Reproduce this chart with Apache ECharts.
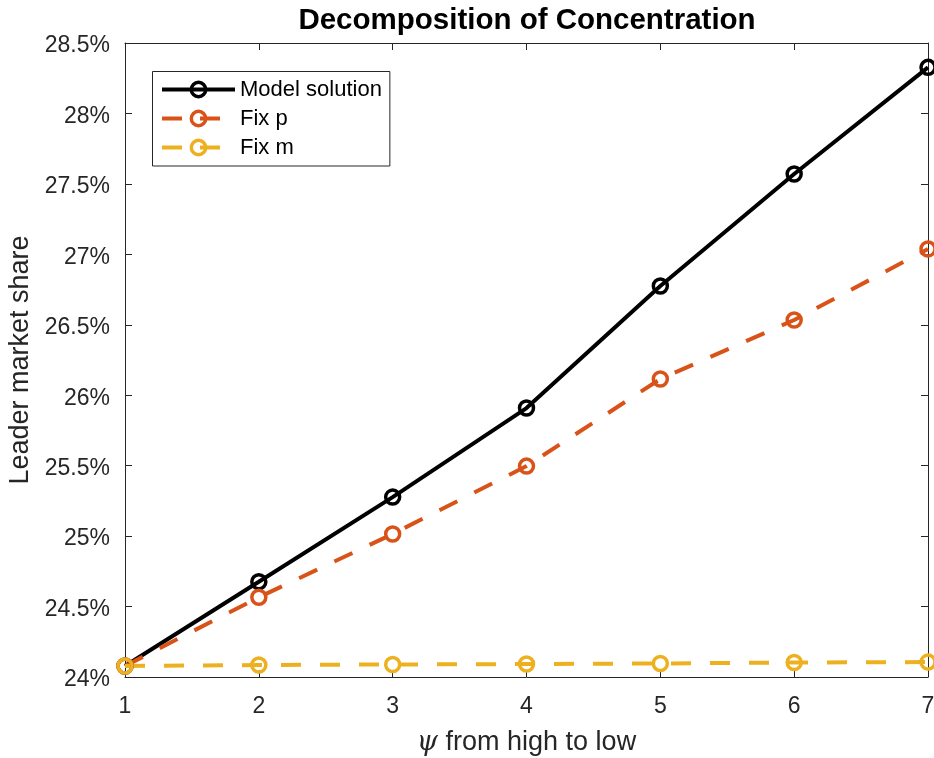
<!DOCTYPE html>
<html>
<head>
<meta charset="utf-8">
<script src="https://cdn.jsdelivr.net/npm/echarts@6/dist/echarts.min.js"></script>
<style>
  html, body { margin: 0; padding: 0; background: #ffffff; }
  #chart { width: 934px; height: 758px; }
</style>
</head>
<body>
<div id="chart"></div>
<script>
// psi index, ordered from high psi to low psi
const psiValues = [1, 2, 3, 4, 5, 6, 7];

// Leader market share (%) under each scenario
const modelSolution = [24.078, 24.676, 25.277, 25.909, 26.775, 27.570, 28.327];
const fixP          = [24.078, 24.566, 25.015, 25.497, 26.115, 26.534, 27.038];
const fixM          = [24.078, 24.085, 24.089, 24.092, 24.096, 24.103, 24.106];

const seriesNames = ['Model solution', 'Fix p', 'Fix m'];
const titleText = 'Decomposition of Concentration';
const xName = '{i|ψ} from high to low';
const yName = 'Leader market share';

const FONT = '"Liberation Sans", Helvetica, Arial, sans-serif';
const INK = '#262626';
const COLORS = ['#000000', '#D95319', '#EDB120'];
const DASH = [20, 19];

const grid = { left: 125, right: 6, top: 43, bottom: 81 };

function pairs(ys) {
  return psiValues.map((x, i) => [x, ys[i]]);
}

function lineSeries(name, ys, color, dashed) {
  return {
    name: name,
    type: 'line',
    data: pairs(ys),
    xAxisIndex: 0,
    yAxisIndex: 0,
    symbol: 'circle',
    symbolSize: 14,
    clip: false,
    animation: false,
    lineStyle: { color: color, width: 4, type: dashed ? DASH : 'solid', cap: 'butt' },
    itemStyle: { color: 'rgba(0,0,0,0)', borderColor: color, borderWidth: 3.5 },
    emphasis: { disabled: true }
  };
}

const boxAxis = {
  min: 1, max: 7, interval: 1
};

const chart = echarts.init(document.getElementById('chart'), null, { renderer: 'canvas' });

chart.setOption({
  backgroundColor: '#ffffff',
  animation: false,
  textStyle: { fontFamily: FONT },
  grid: Object.assign({ outerBoundsMode: 'none', containLabel: false }, grid),
  graphic: [{
    type: 'text',
    x: 527,
    y: 21,
    style: {
      text: titleText,
      font: 'bold 29.5px ' + FONT,
      fill: '#000000',
      align: 'center',
      verticalAlign: 'middle'
    }
  }],
  legend: {
    orient: 'vertical',
    left: 152.5,
    top: 71.5,
    padding: [7, 8, 7.5, 7.5],
    itemWidth: 73,
    itemHeight: 18,
    itemGap: 7,
    backgroundColor: '#ffffff',
    borderColor: INK,
    borderWidth: 1,
    selectedMode: false,
    textStyle: { fontSize: 22, color: '#000000', fontFamily: FONT },
    data: seriesNames.map((n, i) => ({
      name: n,
      itemStyle: { color: 'rgba(0,0,0,0)', borderColor: COLORS[i], borderWidth: 3.5 },
      lineStyle: { color: COLORS[i], width: 4, type: i === 0 ? 'solid' : [20, 18], cap: 'butt' }
    }))
  },
  xAxis: [
    Object.assign({
      type: 'value',
      position: 'bottom',
      name: xName,
      nameLocation: 'middle',
      nameGap: 52,
      nameTextStyle: {
        fontSize: 27, color: INK, fontFamily: FONT,
        rich: { i: { fontSize: 27, fontStyle: 'italic', fontFamily: '"DejaVu Serif", "Liberation Serif", serif', color: INK } }
      },
      axisLine: { show: true, onZero: false, lineStyle: { color: INK, width: 1 } },
      axisTick: { show: true, inside: true, length: 7, lineStyle: { color: INK } },
      axisLabel: { show: true, fontSize: 23, color: INK, margin: 18, fontFamily: FONT },
      splitLine: { show: false }
    }, boxAxis),
    Object.assign({
      type: 'value',
      position: 'top',
      axisLine: { show: true, onZero: false, lineStyle: { color: INK, width: 1 } },
      axisTick: { show: true, inside: true, length: 7, lineStyle: { color: INK } },
      axisLabel: { show: false },
      splitLine: { show: false }
    }, boxAxis)
  ],
  yAxis: [
    {
      type: 'value',
      position: 'left',
      min: 24, max: 28.5, interval: 0.5,
      name: yName,
      nameLocation: 'middle',
      nameGap: 85,
      nameRotate: 90,
      nameTextStyle: { fontSize: 27, color: INK, fontFamily: FONT },
      axisLine: { show: true, onZero: false, lineStyle: { color: INK, width: 1 } },
      axisTick: { show: true, inside: true, length: 7, lineStyle: { color: INK } },
      axisLabel: {
        show: true, fontSize: 23, color: INK, margin: 15, fontFamily: FONT,
        formatter: v => '{t|' + (Math.round(v * 10) / 10) + '%}',
        rich: { t: { fontSize: 23, color: INK, fontFamily: FONT, padding: [6, 0, 0, 0] } }
      },
      splitLine: { show: false }
    },
    {
      type: 'value',
      position: 'right',
      min: 24, max: 28.5, interval: 0.5,
      axisLine: { show: true, onZero: false, lineStyle: { color: INK, width: 1 } },
      axisTick: { show: true, inside: true, length: 7, lineStyle: { color: INK } },
      axisLabel: { show: false },
      splitLine: { show: false }
    }
  ],
  series: [
    lineSeries(seriesNames[0], modelSolution, COLORS[0], false),
    lineSeries(seriesNames[1], fixP, COLORS[1], true),
    lineSeries(seriesNames[2], fixM, COLORS[2], true)
  ]
});
</script>
</body>
</html>
